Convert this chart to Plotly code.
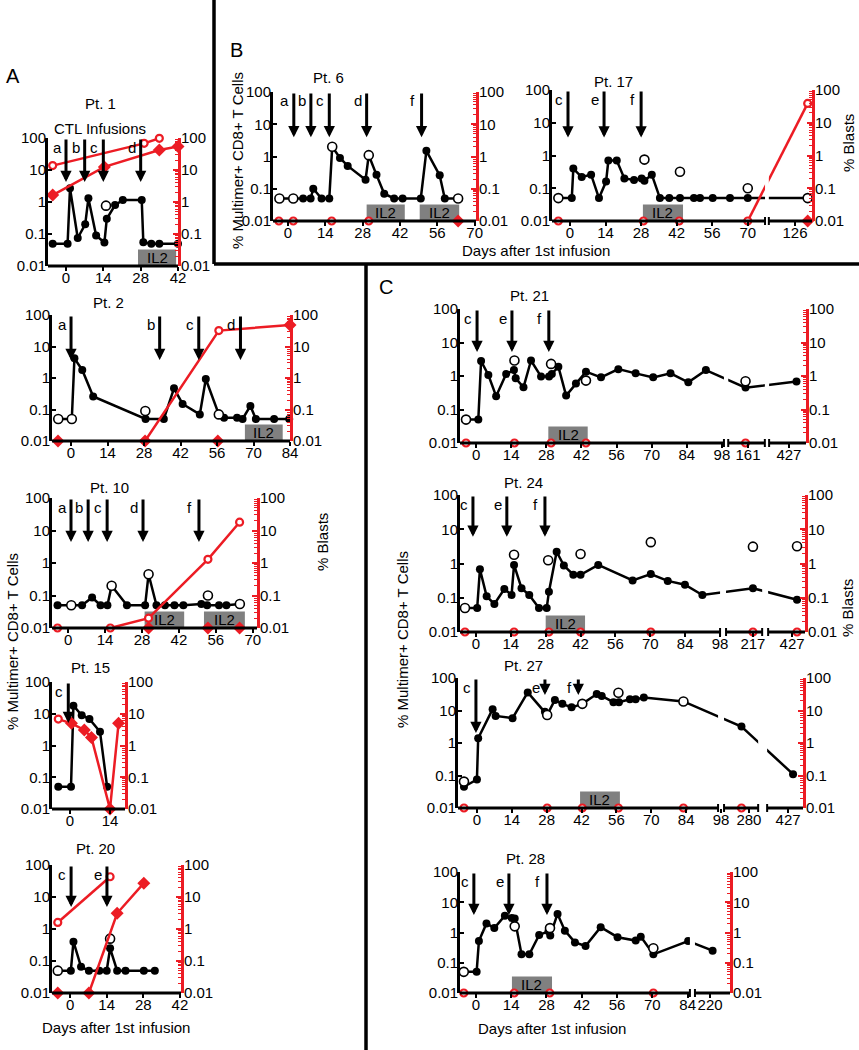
import plotly.graph_objects as go

W, H = 859, 1050
RED = '#ec1c24'
GRAY = '#808080'
FONT = 'Arial, Liberation Sans, sans-serif'
Y_TICKS = [0.01, 0.1, 1, 10, 100]
Y_TEXT = ['0.01', '0.1', '1', '10', '100']

# ---------------- data (days after 1st infusion, % values) ----------------
# Pt. 1
pt1_days = [-5, 0.6, 1.5, 4.4, 7.2, 8.4, 11.3, 14.4, 15.3, 18.4, 21.3, 28.4, 29, 32, 35, 42]
pt1_cells = [0.05, 0.05, 2.7, 0.075, 0.2, 1.3, 0.09, 0.054, 0.3, 0.8, 1.15, 1.15, 0.055, 0.05, 0.05, 0.05]
pt1_open = [0, 0, 0, 0, 0, 0, 0, 0, 0, 0, 0, 0, 0, 0, 0, 0]
pt1_extra_days = [15]
pt1_extra_vals = [0.77]
pt1_pb_days = [-5, 29.3, 35]
pt1_pb_vals = [13.7, 68, 98]
pt1_bm_days = [-5, 14.4, 35, 42]
pt1_bm_vals = [1.65, 12.5, 42, 54]
pt1_arrow_days = [0, 7, 14, 28]
pt1_arrow_labels = ['a', 'b', 'c', 'd']
pt1_il2 = [(27, 41.3)]

# Pt. 2
pt2_days = [-4.9, 0.3, 1.3, 4.3, 8.5, 28.6, 35.6, 39.5, 42.8, 49.4, 51.7, 56.7, 58.7, 63.7, 65.8, 68.8, 70.9, 77.9, 83.7]
pt2_cells = [0.05, 0.05, 4.2, 1.8, 0.26, 0.05, 0.05, 0.47, 0.15, 0.07, 0.93, 0.07, 0.055, 0.055, 0.05, 0.13, 0.05, 0.05, 0.05]
pt2_open = [1, 1, 0, 0, 0, 0, 0, 0, 0, 0, 0, 1, 0, 0, 0, 0, 0, 0, 0]
pt2_extra_days = [28.5]
pt2_extra_vals = [0.09]
pt2_blast_days = [28.4, 56.7, 84]
pt2_blast_vals = [0.01, 32, 48]
pt2_pb_days = [56.7]
pt2_pb_vals = [32]
pt2_bm_days = [-5, 28.4, 56.3, 84]
pt2_bm_vals = [0.01, 0.01, 0.01, 48]
pt2_arrow_days = [0, 34, 49, 65]
pt2_arrow_labels = ['a', 'b', 'c', 'd']
pt2_il2 = [(66.7, 81.2)]

# Pt. 10
pt10_days = [-4, 1.2, 5.3, 9.1, 12.3, 14.9, 16.5, 22.3, 29.2, 30.5, 33.5, 36.7, 40.3, 43.7, 50.5, 52.7, 57.2, 60, 65.1]
pt10_cells = [0.05, 0.05, 0.05, 0.087, 0.05, 0.05, 0.2, 0.05, 0.05, 0.45, 0.05, 0.05, 0.05, 0.05, 0.055, 0.05, 0.05, 0.05, 0.055]
pt10_open = [0, 1, 0, 0, 0, 0, 1, 0, 0, 1, 0, 0, 0, 0, 0, 0, 0, 0, 1]
pt10_extra_days = [53]
pt10_extra_vals = [0.1]
pt10_blast_days = [16, 30.5, 53, 65]
pt10_blast_vals = [0.01, 0.02, 1.3, 18]
pt10_pb_days = [-4, 16, 30.5, 53, 65]
pt10_pb_vals = [0.01, 0.01, 0.02, 1.3, 18]
pt10_bm_days = [30.5, 53, 65]
pt10_bm_vals = [0.01, 0.01, 0.01]
pt10_arrow_days = [1.1, 7.6, 14.8, 28.4, 49.6]
pt10_arrow_labels = ['a', 'b', 'c', 'd', 'f']
pt10_il2 = [(29, 44), (51.5, 67)]

# Pt. 15
pt15_days = [-4.1, 0.35, 1.2, 4.1, 6.8, 10.5, 13]
pt15_cells = [0.05, 0.05, 18, 9, 6.8, 2.7, 0.05]
pt15_open = [0, 0, 0, 0, 0, 0, 0]
pt15_extra_days = []
pt15_extra_vals = []
pt15_blast_days = [-4.1, 0.5, 5, 7.5, 14, 17]
pt15_blast_vals = [6.8, 5, 3.1, 1.8, 0.01, 5]
pt15_pb_days = [-4.1]
pt15_pb_vals = [6.8]
pt15_bm_days = [0.5, 5, 7.5, 14, 17]
pt15_bm_vals = [5, 3.1, 1.8, 0.01, 5]
pt15_arrow_days = [-0.6]
pt15_arrow_labels = ['c']
pt15_il2 = []

# Pt. 20
pt20_days = [-4.7, 0.3, 1.3, 4.2, 7.2, 11.2, 14, 15.3, 18, 21.2, 28.2, 32.4]
pt20_cells = [0.05, 0.05, 0.4, 0.066, 0.05, 0.05, 0.05, 0.25, 0.05, 0.05, 0.05, 0.05]
pt20_open = [1, 0, 0, 0, 0, 0, 0, 0, 0, 0, 0, 0]
pt20_extra_days = [15.3]
pt20_extra_vals = [0.5]
pt20_pb_days = [-4.7, 15.3]
pt20_pb_vals = [1.6, 43]
pt20_bmline_days = [7.2, 18, 28.2]
pt20_bmline_vals = [0.01, 3.1, 27]
pt20_bm_days = [-4.7, 7.2, 18, 28.2]
pt20_bm_vals = [0.01, 0.01, 3.1, 27]
pt20_arrow_days = [0.4, 14.1]
pt20_arrow_labels = ['c', 'e']
pt20_il2 = []

# Pt. 6
pt6_days = [-3.2, 2, 5.7, 8.5, 9.5, 12.6, 15.5, 16.6, 19.5, 22.4, 29.1, 30.3, 33.2, 36.1, 39.8, 43, 49.8, 51.9, 56.9, 58.8, 63.8]
pt6_cells = [0.05, 0.05, 0.05, 0.05, 0.1, 0.05, 0.05, 2.0, 0.9, 0.51, 0.19, 1.1, 0.27, 0.07, 0.05, 0.05, 0.05, 1.5, 0.26, 0.05, 0.05]
pt6_open = [1, 1, 0, 0, 0, 0, 0, 1, 0, 0, 0, 1, 0, 0, 0, 0, 0, 0, 0, 0, 1]
pt6_extra_days = []
pt6_extra_vals = []
pt6_pb_days = [-3.4, 2, 16.4, 30.3]
pt6_pb_vals = [0.01, 0.01, 0.01, 0.01]
pt6_bm_days = [63.8]
pt6_bm_vals = [0.01]
pt6_arrow_days = [2.2, 8.6, 15.5, 29.5, 50.1]
pt6_arrow_labels = ['a', 'b', 'c', 'd', 'f']
pt6_il2 = [(29.5, 43.8), (49.4, 64.2)]

# Pt. 17
pt17_days = [-4.6, 0.7, 1.3, 4.6, 8.3, 11.4, 14.2, 15.1, 18.4, 21.4, 25.2, 28.2, 29.3, 32.2, 35.4, 39.1, 43.3, 48.8, 51.2, 56.2, 63, 70, 131]
pt17_cells = [0.05, 0.05, 0.4, 0.22, 0.26, 0.05, 0.16, 0.7, 0.7, 0.2, 0.18, 0.2, 0.17, 0.26, 0.05, 0.05, 0.05, 0.05, 0.05, 0.05, 0.05, 0.05, 0.05]
pt17_open = [1, 0, 0, 0, 0, 0, 0, 0, 0, 0, 0, 0, 0, 0, 0, 0, 0, 0, 0, 0, 0, 0, 1]
pt17_extra_days = [29.3, 43.3, 70]
pt17_extra_vals = [0.75, 0.32, 0.1]
pt17_blast_days = [70, 131]
pt17_blast_vals = [0.01, 39]
pt17_pb_days = [-4.6, 28.9, 43, 70, 131]
pt17_pb_vals = [0.01, 0.01, 0.01, 0.01, 39]
pt17_bm_days = [131]
pt17_bm_vals = [0.01]
pt17_arrow_days = [-0.8, 13.4, 28]
pt17_arrow_labels = ['c', 'e', 'f']
pt17_il2 = [(28.7, 44.5)]

# Pt. 21
pt21_days = [-4, 0.9, 2, 4.9, 8, 12, 15.1, 15.8, 18.9, 21.9, 25.9, 29.1, 30.2, 32.8, 35.9, 39.8, 43.8, 49.8, 56.7, 63.6, 70.6, 77.5, 84.6, 91.6, 160, 430]
pt21_cells = [0.05, 0.05, 2.8, 1.07, 0.25, 1.15, 1.5, 0.85, 0.46, 2.9, 0.96, 0.96, 1.15, 1.9, 0.26, 0.6, 1.35, 0.91, 1.6, 1.2, 0.91, 1.2, 0.65, 1.5, 0.45, 0.68]
pt21_open = [1, 0, 0, 0, 0, 0, 0, 0, 0, 0, 0, 0, 0, 0, 0, 0, 0, 0, 0, 0, 0, 0, 0, 0, 0, 0]
pt21_extra_days = [15.3, 29.9, 43.8, 160]
pt21_extra_vals = [2.9, 2.3, 0.73, 0.7]
pt21_pb_days = [-4, 15.3, 29.9, 43.8, 160]
pt21_pb_vals = [0.01, 0.01, 0.01, 0.01, 0.01]
pt21_arrow_days = [0.4, 14.3, 29]
pt21_arrow_labels = ['c', 'e', 'f']
pt21_il2 = [(28.8, 44.5)]

# Pt. 24
pt24_days = [-4.4, 0.5, 1.6, 4.3, 7.4, 11.4, 14.3, 15.3, 18.3, 21.4, 25.3, 28.4, 29.3, 32.4, 35.3, 39.1, 42, 49.1, 62.9, 70.2, 77, 83.9, 90.9, 217, 429]
pt24_cells = [0.05, 0.05, 0.68, 0.11, 0.066, 0.18, 0.12, 0.91, 0.19, 0.12, 0.05, 0.05, 0.15, 2.2, 0.87, 0.47, 0.47, 0.91, 0.32, 0.49, 0.31, 0.24, 0.12, 0.19, 0.087]
pt24_open = [1, 0, 0, 0, 0, 0, 0, 0, 0, 0, 0, 0, 0, 0, 0, 0, 0, 0, 0, 0, 0, 0, 0, 0, 0]
pt24_extra_days = [15.3, 29, 42, 70.2, 217, 429]
pt24_extra_vals = [1.8, 1.25, 1.9, 4.2, 3.1, 3.2]
pt24_pb_days = [-4.4, 15.3, 29.3, 42, 70.2, 217, 429]
pt24_pb_vals = [0.01, 0.01, 0.01, 0.01, 0.01, 0.01, 0.01]
pt24_arrow_days = [-1.2, 12.4, 27.7]
pt24_arrow_labels = ['c', 'e', 'f']
pt24_il2 = [(28, 43.8)]

# Pt. 27
pt27_days = [-5.2, 0, 0.5, 6.3, 7.5, 14.3, 20.4, 27.3, 28.2, 31.3, 34.3, 38, 42.3, 48.1, 50.1, 54.8, 57, 61.4, 63.7, 67, 82.9, 277, 429]
pt27_cells = [0.045, 0.075, 1.4, 11, 6.8, 5.8, 36, 9.1, 7.3, 21, 16, 12.5, 16, 32, 28, 18, 18, 22, 22, 25, 19, 3.2, 0.11]
pt27_open = [0, 0, 0, 0, 0, 0, 0, 0, 1, 0, 0, 0, 1, 0, 0, 0, 0, 0, 0, 0, 1, 0, 0]
pt27_extra_days = [-5.2, 56.8]
pt27_extra_vals = [0.065, 35]
pt27_pb_days = [-5.2, 28.2, 42.3, 56.8, 82.9, 277]
pt27_pb_vals = [0.01, 0.01, 0.01, 0.01, 0.01, 0.01]
pt27_arrow_days = [-0.4, 27.3, 40.7]
pt27_arrow_labels = ['c', 'e', 'f']
pt27_il2 = [(41.4, 57.4)]

# Pt. 28
pt28_days = [-4.8, 0.3, 1.2, 4.2, 7.3, 11.5, 14.2, 15.4, 18.1, 21.2, 25.1, 28.8, 29.5, 32.4, 35.3, 39.3, 43.5, 49.5, 56.2, 63.4, 65.4, 70.4, 84.2, 221]
pt28_cells = [0.05, 0.05, 0.52, 2.0, 1.4, 3.6, 3.0, 2.9, 0.19, 0.19, 0.83, 1.1, 0.8, 4.1, 1.15, 0.47, 0.36, 1.5, 0.7, 0.54, 0.73, 0.19, 0.52, 0.25]
pt28_open = [1, 0, 0, 0, 0, 0, 0, 0, 0, 0, 0, 0, 0, 0, 0, 0, 0, 0, 0, 0, 0, 0, 0, 0]
pt28_extra_days = [15.4, 29.4, 70.4]
pt28_extra_vals = [1.6, 1.4, 0.3]
pt28_pb_days = [-4.8, 15.2, 29.3, 70.4]
pt28_pb_vals = [0.01, 0.01, 0.01, 0.01]
pt28_arrow_days = [-0.8, 13.1, 28.2]
pt28_arrow_labels = ['c', 'e', 'f']
pt28_il2 = [(14.3, 30.2)]

TICKS_STD = [0, 14, 28, 42, 56, 70]

# ---------------- panel layout (pixel boxes: left, right, top, bottom) ----------------
panels = [
    dict(title='Pt. 1', tpos=(100, 103), box=(48, 178, 138, 266), xr=(-6.75, 42), ticks=[0, 14, 28, 42],
         d=(pt1_days, pt1_cells, pt1_open, pt1_extra_days, pt1_extra_vals),
         rlines=[(pt1_pb_days, pt1_pb_vals), (pt1_bm_days, pt1_bm_vals)],
         ropen=(pt1_pb_days, pt1_pb_vals), rfill=(pt1_bm_days, pt1_bm_vals),
         arrows=(pt1_arrow_days, pt1_arrow_labels), tip=0.625, il2=pt1_il2),
    dict(title='Pt. 2', tpos=(108, 302), box=(52, 290, 315, 441), xr=(-7.3, 84), ticks=[0, 14, 28, 42, 56, 70, 84],
         d=(pt2_days, pt2_cells, pt2_open, pt2_extra_days, pt2_extra_vals),
         rlines=[(pt2_blast_days, pt2_blast_vals)],
         ropen=(pt2_pb_days, pt2_pb_vals), rfill=(pt2_bm_days, pt2_bm_vals),
         arrows=(pt2_arrow_days, pt2_arrow_labels), tip=0.57, il2=pt2_il2),
    dict(title='Pt. 10', tpos=(109, 487), box=(52, 257, 498, 628), xr=(-6.1, 71.6), ticks=TICKS_STD,
         d=(pt10_days, pt10_cells, pt10_open, pt10_extra_days, pt10_extra_vals),
         rlines=[(pt10_blast_days, pt10_blast_vals)],
         ropen=(pt10_pb_days, pt10_pb_vals), rfill=(pt10_bm_days, pt10_bm_vals),
         arrows=(pt10_arrow_days, pt10_arrow_labels), tip=0.65, il2=pt10_il2),
    dict(title='Pt. 15', tpos=(90, 667), box=(52, 125, 682, 809), xr=(-6.3, 19.25), ticks=[0, 14],
         d=(pt15_days, pt15_cells, pt15_open, pt15_extra_days, pt15_extra_vals),
         rlines=[(pt15_blast_days, pt15_blast_vals)],
         ropen=(pt15_pb_days, pt15_pb_vals), rfill=(pt15_bm_days, pt15_bm_vals),
         arrows=(pt15_arrow_days, pt15_arrow_labels), tip=0.71, il2=pt15_il2),
    dict(title='Pt. 20', tpos=(95, 848), box=(52, 181, 865, 993), xr=(-6.9, 42.4), ticks=[0, 14, 28, 42],
         d=(pt20_days, pt20_cells, pt20_open, pt20_extra_days, pt20_extra_vals),
         rlines=[(pt20_pb_days, pt20_pb_vals), (pt20_bmline_days, pt20_bmline_vals)],
         ropen=(pt20_pb_days, pt20_pb_vals), rfill=(pt20_bm_days, pt20_bm_vals),
         arrows=(pt20_arrow_days, pt20_arrow_labels), tip=0.69, il2=pt20_il2),
    dict(title='Pt. 6', tpos=(328, 77), box=(273, 476, 92, 221), xr=(-5.6, 70.5), ticks=TICKS_STD,
         d=(pt6_days, pt6_cells, pt6_open, pt6_extra_days, pt6_extra_vals),
         rlines=[], ropen=(pt6_pb_days, pt6_pb_vals), rfill=(pt6_bm_days, pt6_bm_vals),
         arrows=(pt6_arrow_days, pt6_arrow_labels), tip=0.6, il2=pt6_il2),
    dict(title='Pt. 17', tpos=(613, 81), box=(552, 812, 90, 221), xr=(-7.1, 95.3), ticks=TICKS_STD + [126],
         segs=[(100, 37.4)], gaps=[(76.8, 78.3)],
         d=(pt17_days, pt17_cells, pt17_open, pt17_extra_days, pt17_extra_vals),
         rlines=[(pt17_blast_days, pt17_blast_vals)],
         ropen=(pt17_pb_days, pt17_pb_vals), rfill=(pt17_bm_days, pt17_bm_vals),
         arrows=(pt17_arrow_days, pt17_arrow_labels), tip=0.55, il2=pt17_il2),
    dict(title='Pt. 21', tpos=(529, 295), box=(460, 806, 309, 443), xr=(-6.4, 131.5),
         ticks=TICKS_STD + [84, 98, 161, 427], segs=[(150, 52.6), (400, 302.3)],
         gaps=[(98.8, 100.5), (115.1, 116.8)],
         d=(pt21_days, pt21_cells, pt21_open, pt21_extra_days, pt21_extra_vals),
         rlines=[], ropen=(pt21_pb_days, pt21_pb_vals), rfill=([], []),
         arrows=(pt21_arrow_days, pt21_arrow_labels), tip=0.72, il2=pt21_il2),
    dict(title='Pt. 24', tpos=(523, 483), box=(460, 805, 495, 632), xr=(-6.4, 132.1),
         ticks=TICKS_STD + [84, 98, 217, 427], segs=[(150, 105.8), (400, 300.1)],
         gaps=[(98, 100.4), (114.9, 117.3)],
         d=(pt24_days, pt24_cells, pt24_open, pt24_extra_days, pt24_extra_vals),
         rlines=[], ropen=(pt24_pb_days, pt24_pb_vals), rfill=([], []),
         arrows=(pt24_arrow_days, pt24_arrow_labels), tip=0.78, il2=pt24_il2),
    dict(title='Pt. 27', tpos=(523, 665), box=(458, 803, 678, 808), xr=(-7.6, 130.9),
         ticks=TICKS_STD + [84, 98, 280, 427], segs=[(200, 170.8), (400, 302.1)],
         gaps=[(96.8, 99.2), (112.9, 116.5)],
         d=(pt27_days, pt27_cells, pt27_open, pt27_extra_days, pt27_extra_vals),
         rlines=[], ropen=(pt27_pb_days, pt27_pb_vals), rfill=([], []),
         arrows=(pt27_arrow_days, pt27_arrow_labels), tip=[0.31, 1.48, 1.48], il2=pt27_il2),
    dict(title='Pt. 28', tpos=(525, 858), box=(460, 730, 872, 993), xr=(-6.3, 100.8),
         ticks=TICKS_STD + [84, 220], segs=[(150, 127.1)], gaps=[(84.9, 86.9)],
         d=(pt28_days, pt28_cells, pt28_open, pt28_extra_days, pt28_extra_vals),
         rlines=[], ropen=(pt28_pb_days, pt28_pb_vals), rfill=([], []),
         arrows=(pt28_arrow_days, pt28_arrow_labels), tip=0.58, il2=pt28_il2),
]


def mapper(segs):
    def f(d):
        off = 0.0
        for thr, o in segs:
            if d >= thr:
                off = o
        return d - off
    return f


fig = go.Figure()
layout = {}
shapes = []
annotations = []
N = len(panels)
tickfont = dict(size=15, color='black', family=FONT)

for i, p in enumerate(panels, start=1):
    s = '' if i == 1 else str(i)
    xa, ya = 'x' + s, 'y' + s
    rnum = N + i
    ra = 'y' + str(rnum)
    l, r, t, b = p['box']
    h = b - t
    m = mapper(p.get('segs', []))
    gaps = p.get('gaps', [])

    layout['xaxis' + s] = dict(domain=[l / W, r / W], range=list(p['xr']), anchor=ya,
                               tickmode='array', tickvals=[m(v) for v in p['ticks']],
                               ticktext=[str(v) for v in p['ticks']], tickangle=0,
                               ticks='outside', ticklen=4, tickwidth=2, tickcolor='black',
                               ticklabelstandoff=-6,
                               showline=False, showgrid=False, zeroline=False, automargin=False,
                               tickfont=tickfont, fixedrange=True)
    layout['yaxis' + s] = dict(domain=[1 - b / H, 1 - t / H], type='log', range=[-2, 2], anchor=xa,
                               tickmode='array', tickvals=Y_TICKS, ticktext=Y_TEXT,
                               ticks='inside', ticklen=4, tickwidth=2, tickcolor='black',
                               ticklabelstandoff=-4,
                               showline=True, linewidth=3, linecolor='black', automargin=False,
                               showgrid=False, zeroline=False, tickfont=tickfont, fixedrange=True)
    layout['yaxis' + str(rnum)] = dict(overlaying=ya, side='right', anchor=xa, type='log', range=[-2, 2],
                                       tickmode='array', tickvals=Y_TICKS, ticktext=Y_TEXT,
                                       ticks='inside', ticklen=5, tickwidth=2, tickcolor=RED,
                                       ticklabelstandoff=-3,
                                       minor=dict(ticks='inside', ticklen=3, tickcolor=RED, tickwidth=1, dtick='D1'),
                                       showline=True, linewidth=3, linecolor=RED, automargin=False,
                                       showgrid=False, zeroline=False, tickfont=tickfont, fixedrange=True)

    # x baseline drawn as segments (axis breaks)
    edges = [p['xr'][0]]
    for ga, gb in gaps:
        edges += [ga, gb]
    edges.append(p['xr'][1])
    for k in range(0, len(edges), 2):
        shapes.append(dict(type='line', xref=xa, yref=ya + ' domain', x0=edges[k], x1=edges[k + 1],
                           y0=0, y1=0, line=dict(color='black', width=3), layer='above'))
    for ga, gb in gaps:
        shapes.append(dict(type='rect', xref=xa, yref=ya + ' domain', x0=ga, x1=gb, y0=0.03, y1=1.0,
                           fillcolor='white', line=dict(width=0), layer='above'))
        for gx in (ga, gb):
            shapes.append(dict(type='line', xref=xa, yref=ya + ' domain', x0=gx, x1=gx,
                               y0=-4.0 / h, y1=4.0 / h, line=dict(color='black', width=2), layer='above'))

    # IL2 boxes
    for a0, a1 in p['il2']:
        shapes.append(dict(type='rect', xref=xa, yref=ya + ' domain', x0=m(a0), x1=m(a1), y0=0, y1=16.5 / h,
                           fillcolor=GRAY, line=dict(width=0), layer='below'))
        annotations.append(dict(text='IL2', xref=xa, yref=ya + ' domain', x=(m(a0) + m(a1)) / 2, y=8.5 / h,
                                showarrow=False, font=dict(size=15, color='black', family=FONT),
                                xanchor='center', yanchor='middle'))

    # black series
    days, cells, opn, xd, xv = p['d']
    mx = [m(v) for v in days]
    fig.add_trace(go.Scatter(x=mx, y=cells, xaxis=xa, yaxis=ya, mode='lines',
                             line=dict(color='black', width=2.5), cliponaxis=False, hoverinfo='skip'))
    fx = [mx[k] for k in range(len(mx)) if not opn[k]]
    fy = [cells[k] for k in range(len(mx)) if not opn[k]]
    fig.add_trace(go.Scatter(x=fx, y=fy, xaxis=xa, yaxis=ya, mode='markers',
                             marker=dict(symbol='circle', size=8, color='black'),
                             cliponaxis=False, hoverinfo='skip'))
    ox = [mx[k] for k in range(len(mx)) if opn[k]] + [m(v) for v in xd]
    oy = [cells[k] for k in range(len(mx)) if opn[k]] + list(xv)
    fig.add_trace(go.Scatter(x=ox, y=oy, xaxis=xa, yaxis=ya, mode='markers',
                             marker=dict(symbol='circle', size=9, color='white',
                                         line=dict(color='black', width=1.6)),
                             cliponaxis=False, hoverinfo='skip'))

    # red blast series (right axis)
    for rd, rv in p['rlines']:
        fig.add_trace(go.Scatter(x=[m(v) for v in rd], y=rv, xaxis=xa, yaxis=ra, mode='lines',
                                 line=dict(color=RED, width=2.5), cliponaxis=False, hoverinfo='skip'))
    rd, rv = p['rfill']
    fig.add_trace(go.Scatter(x=[m(v) for v in rd], y=rv, xaxis=xa, yaxis=ra, mode='markers',
                             marker=dict(symbol='diamond', size=10, color=RED),
                             cliponaxis=False, hoverinfo='skip'))
    rd, rv = p['ropen']
    fig.add_trace(go.Scatter(x=[m(v) for v in rd], y=rv, xaxis=xa, yaxis=ra, mode='markers',
                             marker=dict(symbol='circle', size=7, color='white',
                                         line=dict(color=RED, width=2.2)),
                             cliponaxis=False, hoverinfo='skip'))

    # infusion arrows
    ad, al = p['arrows']
    tips = p['tip'] if isinstance(p['tip'], list) else [p['tip']] * len(ad)
    for k, (dv, lab) in enumerate(zip(ad, al)):
        xv_ = m(dv)
        annotations.append(dict(x=xv_, y=tips[k], xref=xa, yref=ya, ax=xv_, ay=2, axref=xa, ayref=ya,
                                text='', showarrow=True, arrowhead=2, arrowsize=0.75, arrowwidth=3,
                                arrowcolor='black', standoff=0))
        annotations.append(dict(text=lab, x=xv_, y=1 - 9.0 / h, xref=xa, yref=ya + ' domain',
                                xshift=-9, showarrow=False, xanchor='center', yanchor='middle',
                                font=dict(size=15, color='black', family=FONT)))

    annotations.append(dict(text=p['title'], x=p['tpos'][0] / W, y=1 - p['tpos'][1] / H, xref='paper',
                            yref='paper', showarrow=False, xanchor='center', yanchor='middle',
                            font=dict(size=15, color='black', family=FONT)))


def txt(text, px, py, size=15, angle=0):
    annotations.append(dict(text=text, x=px / W, y=1 - py / H, xref='paper', yref='paper', showarrow=False,
                            xanchor='center', yanchor='middle', textangle=angle,
                            font=dict(size=size, color='black', family=FONT)))


txt('CTL Infusions', 100, 128)
txt('A', 13, 76, 20)
txt('B', 236, 50, 20)
txt('C', 386, 287, 20)
txt('Days after 1st infusion', 116, 1027, 15)
txt('Days after 1st infusion', 536, 250, 15)
txt('Days after 1st infusion', 552, 1028, 15)
txt('% Multimer+ CD8+ T Cells', 12, 642, 15, -90)
txt('% Multimer+ CD8+ T Cells', 237, 160, 15, -90)
txt('% Multimer+ CD8+ T Cells', 402, 640, 15, -90)
txt('% Blasts', 322, 542, 15, -90)
txt('% Blasts', 848, 143, 15, -90)
txt('% Blasts', 847, 608, 15, -90)

# separator lines
for x0, y0, x1, y1 in [(214, 0, 214, 264), (214, 264, 859, 264), (366, 264, 366, 1050)]:
    shapes.append(dict(type='line', xref='paper', yref='paper', x0=x0 / W, x1=x1 / W,
                       y0=1 - y0 / H, y1=1 - y1 / H, line=dict(color='black', width=3.5)))

layout.update(dict(width=W, height=H, autosize=False, margin=dict(l=0, r=0, t=0, b=0),
                   paper_bgcolor='white', plot_bgcolor='white', showlegend=False,
                   hovermode=False, shapes=shapes, annotations=annotations,
                   font=dict(family=FONT, color='black')))
fig.update_layout(**layout)
fig.write_html('out.html', config={'displayModeBar': False},
               post_script="document.body.style.margin='0px';document.body.style.overflow='hidden';")
